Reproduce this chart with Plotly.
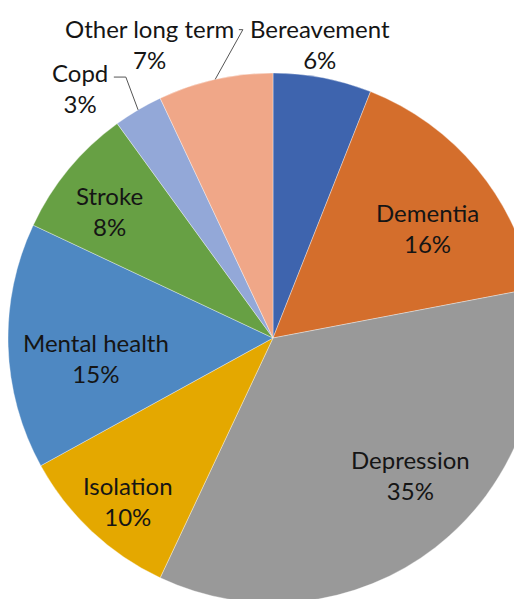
import math
import plotly.graph_objects as go

# ---- data ----
labels = ["Bereavement", "Dementia", "Depression", "Isolation",
          "Mental health", "Stroke", "Copd", "Other long term"]
values = [6, 16, 35, 10, 15, 8, 3, 7]

# ---- style ----
colors = ["#3E64AE", "#D46E2C", "#999999", "#E4A800",
          "#4E88C2", "#67A044", "#93A8D8", "#F0A788"]
label_radius = [1.125, 0.717, 0.732, 0.823, 0.672, 0.781, 1.192, 1.204]
label_angle_shift = [-1.7, 4.2, -7.2, -1.5, -4.6, -1.8, -7.1, -10.1]
# leader lines (pixel offsets from label centre: knee, end)
leaders = {6: ((46, -11), (34, -11)), 7: ((93, -14), (89, -14))}

FONT = "Lato"
FSIZE = 24
TXT = "#151515"

W, H = 546, 611
ML, MR, MT, MB = 8, 8, 73, 8
D = W - ML - MR  # pie diameter in px

fig = go.Figure(go.Pie(
    labels=labels, values=values, sort=False, direction="clockwise",
    rotation=0, textinfo="none", hoverinfo="label+percent",
    marker=dict(colors=colors, line=dict(color="rgba(255,255,255,0.6)", width=0.6)),
    showlegend=False, domain=dict(x=[0, 1], y=[0, 1]),
))

total = sum(values)
cum = 0
annotations = []
shapes = []
for i, (lab, v) in enumerate(zip(labels, values)):
    mid = (cum + v / 2) / total * 360
    cum += v
    ang = math.radians(mid + label_angle_shift[i])
    f = label_radius[i]
    x = 0.5 + 0.5 * f * math.sin(ang)
    y = 0.5 + 0.5 * f * math.cos(ang)
    pct = round(v / total * 100)
    annotations.append(dict(
        x=x, y=y, xref="paper", yref="paper", showarrow=False,
        text=f"{lab}<br>{pct}%", align="center", xanchor="center", yanchor="middle",
        font=dict(family=FONT, size=FSIZE, color=TXT),
    ))
    if i in leaders:
        m = math.radians(mid)
        ex = 0.5 + 0.5 * math.sin(m)
        ey = 0.5 + 0.5 * math.cos(m)
        (kx, ky), (hx, hy) = leaders[i]
        kxp, kyp = x + kx / D, y - ky / D
        hxp, hyp = x + hx / D, y - hy / D
        for (x0, y0, x1, y1) in [(hxp, hyp, kxp, kyp), (kxp, kyp, ex, ey)]:
            shapes.append(dict(type="line", xref="paper", yref="paper",
                               x0=x0, y0=y0, x1=x1, y1=y1,
                               line=dict(color="#555555", width=1)))

fig.update_layout(
    width=W, height=H, autosize=False,
    margin=dict(l=ML, r=MR, t=MT, b=MB, pad=0),
    paper_bgcolor="white", plot_bgcolor="white",
    annotations=annotations, shapes=shapes,
)

fig.write_html("out.html", config={"displayModeBar": False},
               post_script="document.body.style.margin='0';document.body.style.overflow='hidden';")
